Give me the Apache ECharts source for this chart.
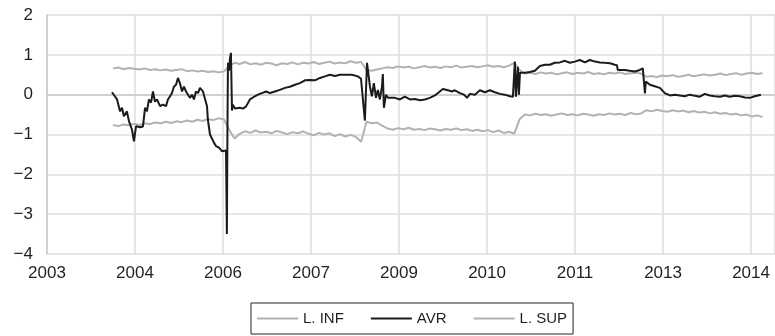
<!DOCTYPE html>
<html>
<head>
<meta charset="utf-8">
<script src="https://cdn.jsdelivr.net/npm/echarts@6/dist/echarts.min.js"></script>
<style>
html,body{margin:0;padding:0;background:#fff;}
#chart{width:775px;height:336px;}
</style>
</head>
<body>
<div id="chart"></div>
<script>
// x values: days since axis origin; one major tick every 500 days
const tickLabels = ['2003','2004','2006','2007','2009','2010','2011','2013','2014'];
const tickStepDays = 500;
const axisMaxDays = 4136;
const yTicks = [-4, -3, -2, -1, 0, 1, 2];

// band sampling: start day and step (days)
const bandStartDay = 375;
const bandStepDays = 30;

const lSup = [
 0.66,0.68,0.64,0.67,0.65,0.63,0.66,0.62,0.64,0.61,0.63,0.60,0.62,0.64,0.59,0.61,0.58,0.60,0.57,0.59,0.56,0.58,
 0.72,0.80,0.77,0.82,0.76,0.79,0.75,0.80,0.78,0.74,0.79,0.77,0.81,0.76,0.80,0.78,0.82,0.77,0.80,0.83,0.78,0.81,0.79,0.84,0.80,0.82,
 0.62,0.60,0.63,0.66,
 0.69,0.67,0.71,0.68,0.70,0.66,0.69,0.72,0.68,0.70,0.67,0.71,0.69,0.73,0.68,0.70,0.72,0.69,0.71,0.74,0.70,0.72,0.69,0.73,0.80,
 0.62,0.53,
 0.55,0.52,0.56,0.53,0.55,0.51,0.54,0.56,0.52,0.55,0.53,0.57,0.52,0.54,0.51,0.55,0.53,0.56,0.52,0.54,0.55,0.53,
 0.45,0.47,0.44,0.48,0.46,0.49,0.45,0.47,0.50,0.46,0.49,0.51,0.48,0.50,0.53,0.49,0.52,0.54,0.50,0.53,0.55,0.52,0.54
];

const lInf = [
 -0.76,-0.79,-0.75,-0.77,-0.73,-0.76,-0.72,-0.74,-0.70,-0.72,-0.68,-0.71,-0.67,-0.69,-0.65,-0.68,-0.63,-0.66,-0.61,-0.64,-0.59,-0.62,
 -0.88,-1.10,-0.98,-0.92,-0.96,-0.90,-0.95,-0.93,-0.97,-0.91,-0.95,-0.99,-0.94,-0.97,-0.92,-0.98,-1.02,-0.96,-1.00,-0.97,-1.04,-0.99,-1.05,-1.01,-1.06,-1.18,
 -0.68,-0.72,-0.70,-0.78,
 -0.85,-0.88,-0.84,-0.87,-0.83,-0.88,-0.86,-0.89,-0.85,-0.87,-0.90,-0.86,-0.88,-0.85,-0.89,-0.87,-0.91,-0.88,-0.92,-0.89,-0.94,-0.90,-0.96,-0.93,-0.98,
 -0.62,-0.50,
 -0.52,-0.48,-0.51,-0.49,-0.53,-0.50,-0.47,-0.51,-0.49,-0.52,-0.48,-0.50,-0.53,-0.49,-0.51,-0.47,-0.50,-0.48,-0.51,-0.46,-0.49,-0.47,
 -0.39,-0.42,-0.38,-0.41,-0.43,-0.39,-0.42,-0.40,-0.44,-0.41,-0.45,-0.43,-0.47,-0.44,-0.48,-0.46,-0.50,-0.48,-0.52,-0.50,-0.55,-0.52,-0.56
];

const avrDays = [
 369,375,398,415,426,437,454,466,483,494,506,517,528,545,557,568,579,591,602,613,625,642,659,676,687,699,710,721,733,744,755,767,778,790,801,812,824,835,846,858,869,886,897,909,914,926,937,949,960,977,988,994,1005,1017,1022,1025,1028,1034,1039,1045,1051,1056,1068,1073,1096,1113,1130,1153,1181,1198,1221,1244,1267,1295,1323,1352,1380,1409,1437,1465,1494,1522,1551,1579,1607,1636,1664,1693,1732,1766,1784,1806,1818,1835,1846,1857,1869,1880,1891,1903,1908,1914,1926,1937,1977,2005,2033,2062,2090,2119,2147,2175,2204,2232,2249,2278,2300,2317,2346,2369,2386,2403,2431,2459,2488,2516,2545,2573,2601,2630,2647,2658,2664,2675,2681,2687,2715,2743,2772,2800,2829,2857,2885,2914,2942,2971,2999,3027,3056,3084,3113,3141,3169,3198,3226,3238,3243,3283,3311,3340,3368,3385,3397,3402,3425,3453,3482,3510,3539,3567,3595,3624,3652,3681,3709,3737,3766,3794,3823,3851,3879,3908,3936,3965,3993,4021,4056
];
const avrValues = [
 0.06,0.05,-0.12,-0.42,-0.33,-0.54,-0.42,-0.67,-0.88,-1.17,-0.79,-0.75,-0.82,-0.80,-0.33,-0.42,-0.12,-0.20,0.08,-0.17,-0.12,-0.29,-0.25,-0.29,-0.12,-0.04,0.04,0.20,0.25,0.42,0.29,0.08,0.20,0.08,0.00,-0.08,0.00,-0.12,0.08,0.04,0.17,0.08,0.12,-0.29,-0.63,-1.00,-1.04,-1.21,-1.29,-1.33,-1.30,-1.42,-1.45,-1.40,-3.50,-1.00,0.80,0.60,0.90,1.05,-0.40,-0.25,-0.35,-0.33,-0.33,-0.35,-0.30,-0.12,-0.04,0.00,0.04,0.08,0.04,0.08,0.12,0.17,0.20,0.25,0.29,0.36,0.37,0.36,0.42,0.46,0.50,0.47,0.50,0.50,0.50,0.46,0.40,-0.65,0.80,0.20,-0.04,0.29,-0.08,0.12,-0.12,0.20,0.52,-0.33,0.00,-0.08,-0.08,-0.12,-0.05,-0.12,-0.11,-0.14,-0.12,-0.08,-0.02,0.08,0.14,0.11,0.08,0.11,0.04,0.00,-0.08,0.02,0.00,0.11,0.06,0.11,0.06,0.02,0.00,-0.04,-0.05,0.83,-0.05,0.70,0.00,0.55,0.55,0.57,0.60,0.72,0.75,0.75,0.80,0.81,0.85,0.80,0.83,0.87,0.81,0.87,0.83,0.81,0.80,0.79,0.75,0.74,0.62,0.62,0.60,0.58,0.62,0.66,0.03,0.33,0.25,0.21,0.17,0.04,-0.02,0.00,-0.02,-0.04,0.00,-0.03,-0.05,0.02,-0.02,-0.04,-0.05,-0.02,-0.05,-0.03,-0.04,-0.07,-0.08,-0.04,0.00
];

const bandPairs = arr => arr.map((v, i) => [bandStartDay + i * bandStepDays, v]);
const avrPairs = avrDays.map((d, i) => [d, avrValues[i]]);

const GRAY = '#b2b2b4';
const BLACK = '#1c1a1b';
const TEXT = '#231f20';
const GRID = '#dedede';
const FONT = '"Liberation Sans", Arial, Helvetica, sans-serif';

const chart = echarts.init(document.getElementById('chart'), null, {renderer: 'canvas'});
chart.setOption({
  animation: false,
  backgroundColor: '#ffffff',
  textStyle: {fontFamily: FONT},
  grid: {left: 47, right: 0, top: 15, bottom: 82, containLabel: false},
  legend: {
    bottom: 2,
    left: 251,
    orient: 'horizontal',
    icon: 'rect',
    borderColor: '#222',
    borderWidth: 1,
    borderRadius: 0,
    padding: [8, 6, 8, 6],
    itemWidth: 41,
    itemHeight: 2,
    itemGap: 27,
    textStyle: {color: TEXT, fontSize: 15, fontFamily: FONT},
    data: ['L. INF', 'AVR', 'L. SUP']
  },
  xAxis: {
    type: 'value',
    min: 0,
    max: axisMaxDays,
    interval: tickStepDays,
    axisLine: {show: true, lineStyle: {color: '#c9c9c9', width: 1.5}},
    axisTick: {show: false},
    splitLine: {show: true, lineStyle: {color: GRID, width: 1.5}},
    axisLabel: {
      color: TEXT, fontSize: 17, fontFamily: FONT, margin: 11,
      showMaxLabel: false,
      formatter: v => {
        const k = v / tickStepDays;
        return Number.isInteger(k) && tickLabels[k] ? tickLabels[k] : '';
      }
    }
  },
  yAxis: {
    type: 'value',
    min: yTicks[0],
    max: yTicks[yTicks.length - 1],
    interval: 1,
    axisLine: {show: true, lineStyle: {color: '#c9c9c9', width: 1.5}},
    axisTick: {show: false},
    splitLine: {show: true, lineStyle: {color: GRID, width: 1.5}},
    axisLabel: {
      color: TEXT, fontSize: 17, fontFamily: FONT, margin: 14,
      formatter: v => String(v).replace('-', '\u2212')
    }
  },
  series: [
    {name: 'L. INF', type: 'line', data: bandPairs(lInf), showSymbol: false, symbol: 'none',
     lineStyle: {color: GRAY, width: 2}, itemStyle: {color: GRAY}, z: 2},
    {name: 'AVR', type: 'line', data: avrPairs, showSymbol: false, symbol: 'none',
     lineStyle: {color: BLACK, width: 2}, itemStyle: {color: BLACK}, z: 4},
    {name: 'L. SUP', type: 'line', data: bandPairs(lSup), showSymbol: false, symbol: 'none',
     lineStyle: {color: GRAY, width: 2}, itemStyle: {color: GRAY}, z: 3}
  ]
});
</script>
</body>
</html>
